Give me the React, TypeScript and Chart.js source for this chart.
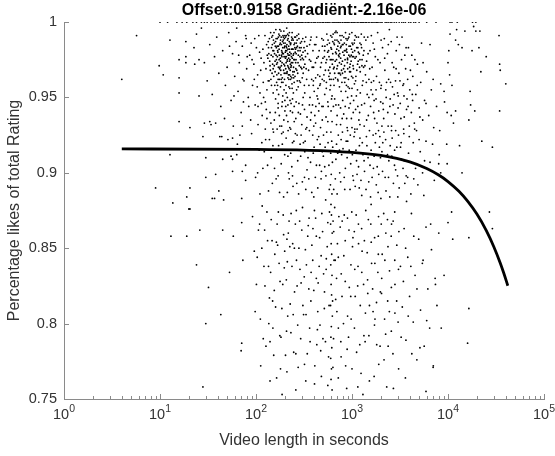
import React, { useEffect, useRef } from "react";
import { Chart, registerables } from "chart.js";

Chart.register(...registerables);

const TITLE = "Offset:0.9158 Gradiënt:-2.16e-06";
const X_LABEL = "Video length in seconds";
const Y_LABEL = "Percentage likes of total Rating";
const X_DECADES = [1, 10, 100, 1000, 10000, 100000];
const X_DECADE_EXPONENTS = ["0", "1", "2", "3", "4", "5"];
const Y_TICKS = [0.75, 0.8, 0.85, 0.9, 0.95, 1];
const Y_TICK_LABELS = ["0.75", "0.8", "0.85", "0.9", "0.95", "1"];

// fitted line
const fitSeconds = [4, 100, 1000, 2000, 4000, 6000, 8000, 10000, 13000, 16000, 20000, 25000, 30000, 35000, 38000, 42000];
const fitRating = [0.9158, 0.9156, 0.9136, 0.9115, 0.9072, 0.9028, 0.8985, 0.8942, 0.8877, 0.8812, 0.8726, 0.8618, 0.851, 0.8402, 0.8337, 0.8251];

// videos with rating exactly 1
const topRowSeconds = [10, 12, 15, 17, 19, 22, 24, 27, 29, 31, 34, 37, 40, 44, 47, 50, 52, 56, 58, 61, 63, 66, 70, 72, 76, 78, 82, 85, 88, 92, 96, 100, 104, 108, 112, 115, 117, 122, 126, 130, 136, 140, 145, 147, 152, 158, 165, 170, 176, 183, 190, 197, 204, 212, 215, 220, 228, 235, 240, 245, 255, 264, 270, 276, 284, 293, 300, 305, 316, 328, 340, 350, 353, 365, 380, 395, 409, 420, 440, 455, 473, 490, 500, 509, 530, 548, 560, 575, 590, 620, 635, 650, 665, 683, 700, 720, 735, 760, 791, 800, 830, 851, 870, 900, 916, 950, 986, 1000, 1030, 1061, 1100, 1142, 1180, 1229, 1250, 1290, 1323, 1370, 1400, 1424, 1480, 1533, 1600, 1650, 1700, 1776, 1800, 1850, 1911, 2000, 2057, 2214, 2300, 2383, 2500, 2600, 2750, 2900, 3100, 3300, 3450, 3600, 3900, 4100, 4400, 4600, 5000, 6000, 7500, 10500, 11000, 12500, 18000, 19500];

const shortClipCluster: [number, number][] = [
  [118,0.982],[124,0.991],[127,0.969],[131,0.978],[134,0.987],[137,0.961],[139,0.974],[142,0.993],[145,0.983],[147,0.966],[150,0.977],[152,0.988],[155,0.971],[157,0.958],[159,0.984],[161,0.995],[163,0.975],[165,0.965],[167,0.989],[169,0.98],[171,0.97],[173,0.992],[175,0.962],[177,0.985],[179,0.976],[181,0.968],[183,0.99],[185,0.981],[187,0.973],[189,0.987],[191,0.96],[193,0.979],[195,0.994],[197,0.983],[199,0.971],[201,0.986],[203,0.976],[205,0.966],[207,0.991],[209,0.981],[211,0.974],[213,0.988],[215,0.963],[217,0.978],[219,0.984],[221,0.969],[223,0.993],[225,0.98],[228,0.972],[231,0.986],[234,0.977],[237,0.959],[240,0.989],[243,0.982],[246,0.97],[249,0.985],[252,0.975],[255,0.964],[258,0.99],[262,0.979],[266,0.968],[270,0.984],[274,0.973],[278,0.992],[283,0.961],[288,0.981],[293,0.97],[298,0.987],[304,0.976],[310,0.966],[316,0.983],[323,0.972],[330,0.99],[337,0.962],[345,0.979],[353,0.968],[362,0.985],[372,0.974],
  [121,0.973],[129,0.985],[136,0.979],[141,0.968],[146,0.99],[149,0.972],[153,0.981],[158,0.967],[162,0.978],[166,0.984],[170,0.962],[174,0.982],[178,0.97],[182,0.994],[186,0.977],[190,0.983],[194,0.968],[198,0.989],[202,0.98],[206,0.973],[210,0.985],[214,0.979],[218,0.97],[222,0.987],[226,0.975],[230,0.964],[235,0.982],[239,0.976],[244,0.988],[250,0.967],[256,0.98],[263,0.986],[269,0.961],[276,0.978],[284,0.983],[292,0.975],[300,0.969],[309,0.98],[319,0.958],[328,0.977],[340,0.984],
  [172,0.952],[188,0.947],[196,0.955],[204,0.944],[212,0.95],[220,0.957],[232,0.946],[245,0.953],[160,0.949],[180,0.957],[208,0.938],[228,0.941]
];

const shortClipExtra: [number, number][] = [
  [133,0.976],[138,0.989],[143,0.962],[148,0.985],[151,0.969],[154,0.993],[156,0.979],[160,0.987],[164,0.972],[168,0.981],[172,0.966],[176,0.991],[180,0.974],[184,0.985],[188,0.963],[192,0.988],[196,0.977],[200,0.991],[204,0.969],[208,0.983],[212,0.975],[216,0.989],[220,0.962],[224,0.978],[229,0.985],[233,0.971],[238,0.993],[242,0.967],[247,0.979],[253,0.986],[259,0.973],[265,0.983],[272,0.966],[280,0.989],[287,0.977],[295,0.983],[303,0.963],[312,0.975],[321,0.987],[333,0.969],
  [135,0.983],[140,0.971],[144,0.978],[149,0.991],[153,0.964],[158,0.974],[162,0.989],[167,0.977],[171,0.984],[176,0.969],[180,0.988],[184,0.971],[189,0.979],[193,0.99],[197,0.966],[201,0.977],[206,0.984],[210,0.966],[214,0.992],[219,0.976],[223,0.982],[227,0.968],[232,0.979],[236,0.988],[241,0.973],[247,0.963],[254,0.983],[260,0.969],[267,0.991],[274,0.981],[282,0.971],[290,0.986],[299,0.978],[307,0.989],[315,0.97],[325,0.981],
  [145,0.958],[165,0.955],[185,0.96],[205,0.958],[225,0.956],[250,0.96],[275,0.957],[190,0.951],[215,0.945],[240,0.949],[170,0.946],[200,0.941],[182,0.965],[198,0.962],[218,0.965],[236,0.963]
];

const shortClipCore: [number, number][] = [
  [163,0.983],[167,0.973],[171,0.99],[175,0.978],[179,0.986],[183,0.962],[187,0.98],[191,0.991],[195,0.972],[199,0.984],[203,0.99],[207,0.977],[211,0.967],[215,0.982],[219,0.991],[223,0.974],[227,0.986],[231,0.97],[235,0.99],[239,0.982],[243,0.965],[248,0.975],[253,0.99],[258,0.982],[164,0.96],[174,0.975],[184,0.978],[194,0.986],[204,0.981],[214,0.971],[224,0.965],[234,0.973],[244,0.978],[177,0.995],[209,0.996],[229,0.962],[261,0.975],[268,0.988],[150,0.981],[155,0.986]
];

const longClipCluster: [number, number][] = [
  [455,0.981],[470,0.97],[485,0.989],[498,0.976],[510,0.965],[522,0.984],[535,0.973],[547,0.992],[558,0.98],[570,0.968],[582,0.986],[594,0.975],[606,0.962],[618,0.99],[630,0.979],[642,0.969],[655,0.985],[668,0.974],[681,0.994],[694,0.982],[707,0.971],[720,0.987],[733,0.977],[746,0.966],[760,0.983],[774,0.972],[788,0.991],[802,0.98],[817,0.969],[832,0.986],[847,0.975],[862,0.963],[878,0.982],[894,0.973],[910,0.989],[927,0.978],[944,0.967],[961,0.984],[979,0.974],[997,0.993],[1016,0.98],[1035,0.969],[1055,0.986],[1076,0.976],[1098,0.964],[1120,0.983],[1143,0.972],[1167,0.99],[1192,0.979],[1218,0.967],[1245,0.985],[1273,0.975],[1302,0.961],[1332,0.981],[1363,0.971],[1395,0.988],
  [462,0.964],[492,0.984],[516,0.977],[541,0.96],[563,0.988],[588,0.97],[612,0.982],[636,0.992],[660,0.966],[686,0.979],[712,0.984],[740,0.973],[768,0.988],[796,0.966],[826,0.978],[856,0.993],[886,0.98],[918,0.962],[952,0.977],[988,0.982],[1025,0.971],[1064,0.988],[1106,0.977],[1150,0.983],[1198,0.97],[1250,0.992],[1310,0.978],[1380,0.965],
  [620,0.951],[680,0.945],[740,0.957],[800,0.948],[860,0.954],[930,0.943],[1000,0.956],[560,0.947],[700,0.938],[900,0.95]
];

const longClipExtra: [number, number][] = [
  [480,0.973],[503,0.988],[528,0.968],[552,0.985],[576,0.977],[600,0.991],[624,0.972],[648,0.986],[673,0.963],[698,0.988],[724,0.978],[750,0.991],[778,0.968],[806,0.985],[836,0.971],[866,0.989],[898,0.976],[932,0.984],[966,0.967],[1002,0.986],[1040,0.977],[1080,0.991],[1122,0.968],[1165,0.98],[1210,0.975],[1258,0.983],[1320,0.97],
  [490,0.962],[518,0.981],[545,0.975],[575,0.964],[603,0.983],[633,0.975],[664,0.988],[696,0.969],[728,0.981],[762,0.976],[794,0.985],[828,0.963],[864,0.981],[902,0.969],[942,0.992],[982,0.978],[1022,0.963],[1066,0.981],[1112,0.99],[1160,0.974],[1210,0.986],[1268,0.971],[1340,0.99],
  [650,0.958],[710,0.962],[770,0.954],[840,0.96],[910,0.957],[990,0.951],[1060,0.959],[1140,0.955],[590,0.955],[760,0.943],[820,0.939],[960,0.946],[1090,0.942],[540,0.956]
];

const longClipCore: [number, number][] = [
  [610,0.975],[630,0.987],[652,0.97],[675,0.98],[700,0.993],[722,0.966],[745,0.979],[770,0.984],[795,0.974],[820,0.99],[845,0.967],[872,0.985],[900,0.975],[928,0.99],[958,0.972],[990,0.964],[1020,0.985],[640,0.962],[690,0.975],[740,0.986],[785,0.96],[835,0.981],[890,0.988],[945,0.97],[1010,0.977],[570,0.981],[590,0.966],[665,0.993],[715,0.961],[875,0.958]
];

const streakPoints: [number, number][] = [
  [598,0.958],[612,0.949],[605,0.941],[620,0.934],[603,0.927],[615,0.921],[600,0.913],[625,0.907],[608,0.899],[596,0.892],[618,0.886],[604,0.879],[611,0.872],[599,0.866],[622,0.86],[607,0.853],[614,0.846],[601,0.839],[619,0.832],[606,0.826],[613,0.819],[598,0.812],[624,0.805],[609,0.798],[603,0.791],[616,0.784],[600,0.777],[611,0.77],[605,0.763],[620,0.756],[640,0.944],[630,0.917],[645,0.889],[635,0.868],[650,0.842],[628,0.815],[642,0.79],[633,0.771]
];

const upperBandPoints: [number, number][] = [
  [27,0.996],[29,0.973],[31,0.961],[33,0.985],[35,0.952],[37,0.977],[39,0.99],[41,0.966],[43,0.944],[45,0.981],[48,0.958],[50,0.97],[52,0.993],[55,0.948],[57,0.979],[60,0.964],[62,0.987],[65,0.954],[67,0.973],[70,0.94],[72,0.984],[75,0.961],[78,0.991],[80,0.969],[83,0.95],[86,0.978],[89,0.986],[92,0.958],[95,0.972],[98,0.945],[101,0.983],[104,0.965],[107,0.991],[110,0.953],[113,0.976],[116,0.938],[34,0.932],[47,0.936],[58,0.931],[74,0.947],[88,0.935],[96,0.962],[63,0.996],[81,0.977],[105,0.944],[112,0.968],
  [380,0.962],[392,0.981],[404,0.954],[416,0.973],[428,0.99],[440,0.965],[388,0.945],[410,0.938],[432,0.951],[398,0.97],[420,0.985],[445,0.977],[375,0.99],[365,0.95],
  [105,0.932],[125,0.947],[140,0.94],[155,0.935],[170,0.943],[185,0.931],[200,0.948],[215,0.934],[240,0.94],[260,0.936],[280,0.946],[300,0.932],[320,0.942],[340,0.937],[360,0.945],[400,0.931],[450,0.941],[490,0.935],[520,0.952],[130,0.955],[265,0.955],[310,0.95],
  [1420,0.974],[1460,0.99],[1500,0.962],[1540,0.981],[1580,0.955],[1620,0.97],[1660,0.986],[1700,0.948],[1750,0.977],[1800,0.964],[1850,0.993],[1900,0.941],[1960,0.973],[2020,0.958],[2080,0.983],[2140,0.936],[2200,0.968],[2270,0.95],[2340,0.979],[2410,0.962],[2480,0.944],[2560,0.987],[2640,0.957],[2720,0.97],[2800,0.939],[2890,0.981],[2980,0.953],[3080,0.966],[3180,0.946],[3280,0.975],[3390,0.958],[3500,0.937],[3620,0.969],[3740,0.949],[3870,0.983],[4000,0.955],[4150,0.94],[4300,0.964],[4460,0.933],[4620,0.952],[4800,0.972],[5000,0.943],[5200,0.96],[5450,0.935],[5700,0.948],[6000,0.967],[6300,0.938],[6700,0.955],[7100,0.93],[7600,0.944],[1440,0.952],[1560,0.944],[1680,0.961],[1820,0.933],[1990,0.947],[2170,0.989],[2360,0.94],[2580,0.931],[2840,0.961],[3120,0.985],[3450,0.929],[3800,0.962],[4200,0.978],[4700,0.928],[1480,0.938],[1720,0.936],[2050,0.931],[2450,0.995],[2950,0.99],[3550,0.978],[5300,0.986],
  [1030,0.94],[1110,0.951],[1180,0.935],[1260,0.945],[1340,0.931],[1070,0.929],[1220,0.953]
];

const upperBandExtra: [number, number][] = [
  [53,0.984],[59,0.951],[66,0.978],[73,0.962],[79,0.989],[84,0.944],[91,0.975],[97,0.989],[103,0.957],[109,0.98],[114,0.946],[119,0.96],
  [360,0.975],[370,0.988],[385,0.97],[395,0.958],[408,0.985],[418,0.963],[430,0.976],[442,0.956],[455,0.946],[468,0.959],[500,0.944],
  [1410,0.96],[1470,0.979],[1530,0.969],[1590,0.991],[1640,0.952],[1710,0.982],[1780,0.955],[1860,0.975],[1930,0.96],[2010,0.988],[2100,0.946],[2190,0.976],[2290,0.96],[2390,0.985],[2500,0.949],[2620,0.973],[2750,0.952],[2880,0.969],[3020,0.943],[3160,0.961],[3320,0.99],[3480,0.951],[3660,0.983],[3840,0.944],[4060,0.968],[4280,0.948],[4520,0.975],[4780,0.958],[5100,0.937],[5500,0.973],[5900,0.946],[6500,0.985],[7000,0.962],
  [130,0.936],[150,0.929],[175,0.938],[225,0.93],[250,0.944],[290,0.939],[330,0.929],[370,0.935],[420,0.944],[470,0.93],[560,0.934],[760,0.932],[880,0.936],[1000,0.93],[1200,0.94]
];

const upperBandCore: [number, number][] = [
  [120,0.95],[128,0.942],[134,0.961],[143,0.933],[151,0.953],[159,0.94],[168,0.958],[177,0.931],[186,0.944],[195,0.935],[206,0.953],[216,0.928],[226,0.948],[238,0.956],[250,0.934],[262,0.947],[276,0.94],[290,0.96],[305,0.945],[322,0.953],[338,0.93],[356,0.958],[376,0.94],[396,0.961],[418,0.933],[440,0.949],[462,0.958],[486,0.944],[512,0.961],[536,0.937],[565,0.944],[585,0.962],[660,0.949],[690,0.932],[725,0.945],[760,0.965],[790,0.936],[850,0.944],[890,0.93],[940,0.956],[985,0.936],[1040,0.948],[1090,0.961],[1150,0.944],[1210,0.932],[1280,0.958],[1350,0.946],[1420,0.935],[1500,0.95],[1590,0.96],[1680,0.94],[1780,0.949],[1890,0.928],[2000,0.956],[2120,0.942],[2250,0.955],[2380,0.931],[2520,0.96],[2680,0.945],[2850,0.928],[3030,0.951],[3230,0.936],[3450,0.959],[3700,0.942],[3950,0.931],[4250,0.952]
];

const midBandPoints: [number, number][] = [
  [42,0.924],[55,0.911],[64,0.919],[78,0.905],[90,0.926],[99,0.897],[108,0.915],[118,0.903],[126,0.922],[135,0.888],[144,0.91],[152,0.927],[162,0.896],[172,0.918],[183,0.906],[194,0.884],[206,0.923],[218,0.9],[230,0.913],[243,0.891],[257,0.926],[272,0.908],[288,0.919],[304,0.894],[322,0.914],[340,0.902],[360,0.928],[381,0.887],[403,0.917],[426,0.905],[450,0.924],[476,0.896],[503,0.911],[532,0.882],[563,0.92],[680,0.909],[720,0.925],[762,0.894],[806,0.916],[853,0.903],[902,0.921],[954,0.889],[1009,0.912],[1067,0.927],[1129,0.899],[1194,0.918],[1263,0.885],[1336,0.908],[1413,0.924],[1495,0.894],[1581,0.915],[1672,0.903],[1769,0.926],[1871,0.887],[1979,0.91],[2093,0.92],[2214,0.897],[2342,0.912],[2477,0.884],[2620,0.923],[2771,0.905],[2931,0.917],[3100,0.89],[3279,0.909],[3468,0.926],[3668,0.898],[3880,0.913],[4104,0.886],[4341,0.92],[4592,0.903],[4857,0.892],[5137,0.914],[5434,0.9],[5900,0.921],[6500,0.907],[7200,0.895],[8100,0.912],
  [148,0.893],[166,0.929],[188,0.919],[212,0.887],[236,0.904],[262,0.915],[295,0.925],[330,0.889],[370,0.907],[415,0.897],[465,0.919],[520,0.904],[700,0.886],[780,0.912],[870,0.921],[970,0.906],[1080,0.891],[1210,0.923],[1350,0.901],[1520,0.928],[1700,0.911],[1900,0.899],[2150,0.927],[2420,0.908],[2700,0.893],[3050,0.925],[3400,0.903],[110,0.886],[125,0.929],[230,0.929],[545,0.927],[900,0.928],[1130,0.929],[2000,0.883],[4500,0.929],[5600,0.885],[3700,0.881]
];

const midBandExtra: [number, number][] = [
  [104,0.9],[122,0.914],[138,0.922],[156,0.903],[176,0.887],[199,0.912],[222,0.896],[248,0.921],[278,0.886],[312,0.92],[348,0.91],[390,0.925],[440,0.89],[490,0.914],[535,0.898],[580,0.889],[690,0.919],[745,0.9],[795,0.927],[840,0.889],[935,0.915],[1020,0.898],[1100,0.915],[1170,0.904],[1280,0.92],[1400,0.889],[1470,0.91],[1620,0.897],[1750,0.92],[1830,0.904],[2050,0.914],[2260,0.888],[2500,0.918],[2850,0.902],[3200,0.917],[3550,0.893],[3950,0.924],[4400,0.896],[5000,0.922],[5700,0.908],[6900,0.919],
  [160,0.915],[185,0.926],[240,0.898],[268,0.925],[320,0.897],[400,0.884],[460,0.905],[505,0.925],[740,0.915],[1050,0.924],[1240,0.895],[1560,0.884],[1950,0.924],[2600,0.911],[3000,0.884],
  [115,0.92],[132,0.905],[150,0.918],[170,0.898],[192,0.927],[215,0.911],[240,0.92],[266,0.893],[292,0.911],[325,0.921],[355,0.896],[395,0.913],[435,0.922],[480,0.901],[525,0.917],[575,0.905],[670,0.896],[710,0.913],[770,0.922],[830,0.897],[890,0.91],[960,0.925],[1035,0.895],[1115,0.908],[1190,0.89],[1300,0.912],[1430,0.918],[1540,0.905],[1660,0.925],[1790,0.892],[1930,0.917],[2080,0.901],[2240,0.922],[2400,0.897],[2580,0.928],[2780,0.915],[2980,0.898],[3250,0.92],[3500,0.908],[3800,0.897]
];

const lowerBandPoints: [number, number][] = [
  [26,0.862],[30,0.8],[32,0.824],[43,0.806],[45,0.862],[53,0.834],[58,0.858],[71,0.867],[71,0.787],[73,0.842],[70,0.782],[28,0.758],[24,0.839],[19,0.858],[13,0.858],[20,0.876],
  [92,0.871],[96,0.848],[101,0.826],[106,0.862],[111,0.803],[116,0.878],[121,0.838],[127,0.785],[132,0.855],[138,0.817],[144,0.869],[150,0.797],[157,0.846],[164,0.764],[171,0.874],[178,0.828],[186,0.81],[194,0.859],[203,0.779],[212,0.841],[221,0.868],[231,0.794],[241,0.853],[252,0.821],[263,0.875],[275,0.771],[287,0.836],[300,0.862],[313,0.806],[327,0.849],[342,0.78],[357,0.87],[373,0.815],[390,0.842],[407,0.76],[425,0.858],[444,0.827],[464,0.799],[485,0.873],[506,0.833],[529,0.788],[552,0.851],[577,0.812],[660,0.877],[690,0.83],[721,0.797],[753,0.864],[787,0.818],[822,0.845],[859,0.772],[897,0.87],[937,0.824],[979,0.803],[1023,0.857],[1069,0.836],[1117,0.781],[1167,0.866],[1219,0.812],[1274,0.848],[1331,0.792],[1391,0.875],[1453,0.829],[1518,0.762],[1586,0.854],[1657,0.808],[1731,0.84],[1809,0.786],[1890,0.871],[1975,0.821],[2063,0.846],[2156,0.776],[2252,0.86],[2353,0.815],[2458,0.835],[2568,0.795],[2683,0.868],[2803,0.826],[2929,0.852],[3060,0.77],[3197,0.838],[3340,0.811],[3490,0.863],[3646,0.789],[3809,0.844],[3980,0.818],[4158,0.873],[4344,0.801],[4538,0.832],[4741,0.776],[4953,0.856],[5175,0.809],[5406,0.84],[5648,0.785],[5901,0.864],[6165,0.823],[6441,0.797],[6729,0.849],[7030,0.772],[7345,0.83],[7673,0.812],[8017,0.86],
  [155,0.822],[168,0.852],[182,0.791],[197,0.837],[214,0.805],[232,0.873],[251,0.85],[272,0.799],[295,0.827],[320,0.773],[346,0.858],[375,0.834],[406,0.875],[440,0.808],[477,0.845],[517,0.821],[560,0.867],[705,0.853],[765,0.788],[830,0.872],[900,0.805],[975,0.839],[1057,0.861],[1146,0.825],[1242,0.767],[1346,0.855],[1460,0.82],[1582,0.879],[1715,0.799],[1860,0.834],[2016,0.866],[2185,0.803],[2370,0.851],[2570,0.824],[2786,0.874],[3020,0.801],[115,0.85],[140,0.762],[260,0.756],[480,0.765],[1300,0.753],[2300,0.758],[430,0.786],[880,0.757],[210,0.768],[3600,0.764],[720,0.764]
];

const lowerBandExtra: [number, number][] = [
  [98,0.808],[103,0.844],[109,0.866],[119,0.79],[124,0.825],[130,0.874],[136,0.8],[142,0.834],[147,0.855],[153,0.779],[160,0.811],[166,0.866],[174,0.84],[180,0.77],[190,0.826],[199,0.848],[208,0.795],[217,0.86],[227,0.813],[237,0.838],[247,0.781],[257,0.866],[268,0.825],[280,0.85],[292,0.79],[305,0.877],[318,0.831],[332,0.806],[350,0.865],[366,0.788],[382,0.852],[400,0.822],[418,0.87],[436,0.796],[455,0.838],[472,0.782],[494,0.861],[515,0.81],[540,0.843],[570,0.778],[668,0.842],[696,0.808],[730,0.871],[772,0.833],[815,0.8],[850,0.855],[890,0.783],[930,0.862],[970,0.818],[1012,0.851],[1060,0.797],[1105,0.872],[1155,0.838],[1205,0.786],[1260,0.863],[1320,0.826],[1380,0.807],[1440,0.847],[1500,0.792],[1570,0.866],[1640,0.823],[1720,0.857],[1800,0.814],[1880,0.846],[1960,0.785],[2040,0.83],[2140,0.873],[2240,0.793],[2340,0.869],[2450,0.808],[2560,0.858],[2670,0.78],[2790,0.842],[2920,0.815],[3080,0.861],[3250,0.791],[3430,0.828],[3620,0.85],[3850,0.805],[4100,0.838],[4400,0.858],[4750,0.823],[5100,0.784],[5500,0.842],[6000,0.802],[6600,0.866],
  [112,0.772],[187,0.753],[330,0.762],[560,0.759],[1000,0.77],[1700,0.765],[2700,0.757],[4200,0.78],
  [123,0.862],[135,0.838],[149,0.815],[163,0.854],[177,0.792],[192,0.872],[207,0.829],[225,0.851],[244,0.806],[264,0.842],[285,0.868],[308,0.812],[335,0.839],[362,0.797],[392,0.863],[425,0.83],[460,0.857],[498,0.79],[538,0.836],[583,0.874],[676,0.816],[720,0.844],[790,0.868],[850,0.828],[920,0.791],[995,0.874],[1080,0.818],[1170,0.853],[1265,0.834],[1370,0.788],[1480,0.869],[1600,0.84],[1735,0.803],[1880,0.858],[2030,0.82],[2200,0.842],[2380,0.785],[2580,0.866],[2800,0.807],[3050,0.836],[260,0.78],[410,0.772],[770,0.778],[1150,0.758],[1900,0.773],[140,0.788],[210,0.856],[355,0.823],[645,0.861],[1520,0.812]
];

const rightOutliers: [number, number][] = [
  [34000,0.991],[34500,0.972],[35000,0.968],[40000,0.959],[34500,0.941],[29000,0.917],[22000,0.967],[22500,0.921],[25000,0.977],[17000,0.954],[17200,0.945],[17800,0.981],[21000,0.983],[19000,0.941],[16500,0.935],[14000,0.9],[13200,0.918],[12800,0.985],[15000,0.994],[18500,0.997],[19500,0.994],[21500,0.994],[10500,0.992],[12000,0.988],[12300,0.995],[10200,0.981],[10000,0.973],[14000,0.983],[10400,0.965],[11000,0.958],[9100,0.954],[8400,0.959],[9200,0.947],[12000,0.941],[10800,0.938],[9800,0.94],[11400,0.933],[9700,0.919],[9800,0.906],[8400,0.9],[8000,0.906],[8200,0.928],[10900,0.874],[10000,0.867],[11200,0.856],[16500,0.857],[27000,0.874],[29000,0.863],[9100,0.832],[16500,0.81],[16000,0.787],[7400,0.826],[8500,0.797],[7000,0.771],[5900,0.755]
];

const leftOutliers: [number, number][] = [
  [4,0.962],[5.7,0.991],[9.8,0.971],[10.8,0.965],[12.7,0.988],[15.8,0.975],[15.8,0.963],[15.8,0.953],[15.8,0.934],[18.6,0.987],[18.6,0.977],[18.6,0.973],[20.5,0.93],[22.6,0.983],[24,0.992],[25.5,0.975],[23,0.972],[25.5,0.951],[12.7,0.912],[9,0.89],[13.6,0.88],[20.5,0.89],[19,0.884],[20.5,0.876],[29,0.933],[33,0.934],[38,0.933],[28,0.924],[44,0.924],[51,0.922],[57,0.923],[68,0.925],[72,0.931],[30,0.91],[45,0.909],[57,0.909],[63,0.912],[57,0.901],[72,0.901],[78,0.895],[30,0.897],[38,0.899],[41,0.888],[35,0.883],[46,0.882],[71,0.883],[37,0.883]
];

const FONT = '"Liberation Sans", Arial, Helvetica, sans-serif';
const TEXT_COLOR = "#333333";
const AXIS_COLOR = "#8a8a8a";

const axisDecor = {
  id: "axisDecor",
  afterDraw(chart: any) {
    const { ctx, chartArea, scales } = chart;
    const xs = scales.x;
    const ys = scales.y;
    ctx.save();
    ctx.strokeStyle = AXIS_COLOR;
    ctx.lineWidth = 1;
    ctx.beginPath();
    X_DECADES.forEach((d, i) => {
      const px = Math.round(xs.getPixelForValue(d)) + 0.5;
      if (i > 0) {
        ctx.moveTo(px, chartArea.bottom);
        ctx.lineTo(px, chartArea.bottom - 5);
      }
      if (i < X_DECADES.length - 1) {
        for (let m = 2; m <= 9; m++) {
          const mx = Math.round(xs.getPixelForValue(d * m)) + 0.5;
          ctx.moveTo(mx, chartArea.bottom);
          ctx.lineTo(mx, chartArea.bottom - 3);
        }
      }
    });
    Y_TICKS.forEach((v, i) => {
      if (i === 0) return;
      const py = Math.round(ys.getPixelForValue(v)) + 0.5;
      ctx.moveTo(chartArea.left, py);
      ctx.lineTo(chartArea.left + 5, py);
    });
    ctx.stroke();

    // x tick labels 10^n
    ctx.fillStyle = TEXT_COLOR;
    ctx.textBaseline = "alphabetic";
    ctx.textAlign = "left";
    X_DECADES.forEach((d, i) => {
      const px = xs.getPixelForValue(d);
      ctx.font = `14.5px ${FONT}`;
      const baseW = ctx.measureText("10").width;
      ctx.font = `10.5px ${FONT}`;
      const expW = ctx.measureText(X_DECADE_EXPONENTS[i]).width;
      const start = px - (baseW + expW) / 2;
      ctx.font = `14.5px ${FONT}`;
      ctx.fillText("10", start, chartArea.bottom + 20);
      ctx.font = `10.5px ${FONT}`;
      ctx.fillText(X_DECADE_EXPONENTS[i], start + baseW, chartArea.bottom + 13);
    });

    // title
    ctx.font = `bold 16px ${FONT}`;
    ctx.fillStyle = "#000000";
    ctx.textAlign = "center";
    ctx.textBaseline = "middle";
    ctx.fillText(TITLE, (chartArea.left + chartArea.right) / 2, 11);
    ctx.restore();
  },
};

const toXY = (arr: [number, number][]) => arr.map(([x, y]) => ({ x, y }));

export default function App() {
  const ref = useRef<HTMLCanvasElement>(null);
  useEffect(() => {
    if (!ref.current) return;
    const scatter = [
      ...topRowSeconds.map((s) => ({ x: s, y: 1 })),
      ...toXY(shortClipCluster),
      ...toXY(shortClipExtra),
      ...toXY(shortClipCore),
      ...toXY(longClipCluster),
      ...toXY(longClipExtra),
      ...toXY(longClipCore),
      ...toXY(streakPoints),
      ...toXY(upperBandPoints),
      ...toXY(upperBandExtra),
      ...toXY(upperBandCore),
      ...toXY(midBandPoints),
      ...toXY(midBandExtra),
      ...toXY(lowerBandPoints),
      ...toXY(lowerBandExtra),
      ...toXY(rightOutliers),
      ...toXY(leftOutliers),
    ];
    const fit = fitSeconds.map((s, i) => ({ x: s, y: fitRating[i] }));
    const chart = new Chart(ref.current, {
      type: "scatter",
      data: {
        datasets: [
          {
            type: "line",
            data: fit,
            borderColor: "#000000",
            borderWidth: 2.8,
            pointRadius: 0,
            fill: false,
            showLine: true,
            cubicInterpolationMode: "monotone",
          } as any,
          {
            data: scatter,
            pointRadius: 0.9,
            pointBackgroundColor: "#000000",
            pointBorderWidth: 0,
            showLine: false,
          },
        ],
      },
      options: {
        animation: false,
        responsive: false,
        devicePixelRatio: 1,
        layout: { padding: { top: 22, right: 11, left: 0, bottom: 0 } },
        plugins: { legend: { display: false }, tooltip: { enabled: false }, title: { display: false } },
        scales: {
          x: {
            type: "logarithmic",
            position: "bottom",
            min: 1,
            max: 100000,
            grid: { display: false, drawTicks: false },
            border: { display: true, color: AXIS_COLOR, width: 1 },
            ticks: { display: false },
            title: {
              display: true,
              text: X_LABEL,
              color: TEXT_COLOR,
              font: { family: FONT, size: 16 },
              padding: { top: 0, bottom: 6 },
            },
            afterFit: (s: any) => {
              s.height = 57;
            },
          },
          y: {
            type: "linear",
            min: 0.75,
            max: 1,
            grid: { display: false, drawTicks: false },
            border: { display: true, color: AXIS_COLOR, width: 1 },
            ticks: {
              stepSize: 0.05,
              padding: 7,
              color: TEXT_COLOR,
              font: { family: FONT, size: 14.5 },
              callback: (v: any) => {
                const idx = Y_TICKS.findIndex((t) => Math.abs(t - Number(v)) < 1e-6);
                return idx >= 0 ? Y_TICK_LABELS[idx] : "";
              },
            },
            title: {
              display: true,
              text: Y_LABEL,
              color: TEXT_COLOR,
              font: { family: FONT, size: 16 },
              padding: { top: 5, bottom: 0 },
            },
            afterFit: (s: any) => {
              s.width = 64;
            },
          },
        },
      },
      plugins: [axisDecor],
    });
    return () => chart.destroy();
  }, []);
  return (
    <div style={{ position: "absolute", left: 0, top: 0, width: 555, height: 456, background: "#fff" }}>
      <canvas ref={ref} width={555} height={456} style={{ width: 555, height: 456 }} />
    </div>
  );
}
